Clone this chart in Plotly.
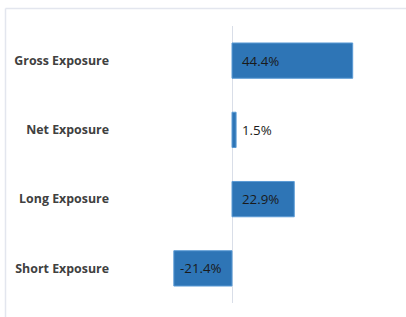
import plotly.graph_objects as go

categories = ["Gross Exposure", "Net Exposure", "Long Exposure", "Short Exposure"]
values = [44.4, 1.5, 22.9, -21.4]
labels = ["44.4%", "1.5%", "22.9%", "-21.4%"]

W, H = 406, 317
L, R, T, B = 120, 6, 26, 14
pw, ph = W - L - R, H - T - B

fig = go.Figure()
fig.add_trace(go.Bar(
    y=categories, x=values, orientation="h",
    marker=dict(color="#2e75b6", line=dict(color="#5b9bd5", width=1)),
    width=0.51, hoverinfo="skip",
))

for c, v, t in zip(categories, values, labels):
    fig.add_annotation(
        x=0, y=c, text=t, showarrow=False,
        xanchor="left" if v >= 0 else "right",
        xshift=8 if v >= 0 else -8,
        font=dict(family="Open Sans", size=13.3, color="#1a1a1a"),
    )

# outer frame (top and left edges)
px = lambda x: (x - L) / pw
py = lambda y: (H - B - y) / ph
fig.add_shape(type="line", xref="paper", yref="paper",
              x0=px(5.5), x1=px(406), y0=py(8.5), y1=py(8.5),
              line=dict(color="#e3e6ee", width=1.5))
fig.add_shape(type="line", xref="paper", yref="paper",
              x0=px(5.5), x1=px(5.5), y0=py(8.5), y1=py(317),
              line=dict(color="#e3e6ee", width=1.5))

fig.update_layout(
    width=W, height=H,
    margin=dict(l=L, r=R, t=T, b=B),
    paper_bgcolor="white", plot_bgcolor="white",
    showlegend=False,
    xaxis=dict(range=[-41.2, 61.8], showgrid=False, showticklabels=False,
               zeroline=True, zerolinecolor="#d9dee8", zerolinewidth=1,
               fixedrange=True),
    yaxis=dict(autorange="reversed", showgrid=False, zeroline=False,
               ticks="", ticklabelstandoff=10,
               tickfont=dict(family="Open Sans", size=12.4, color="#404040", weight="bold"),
               fixedrange=True),
)
fig.write_html("out.html", config={"displayModeBar": False},
               post_script="document.body.style.margin='0';")
